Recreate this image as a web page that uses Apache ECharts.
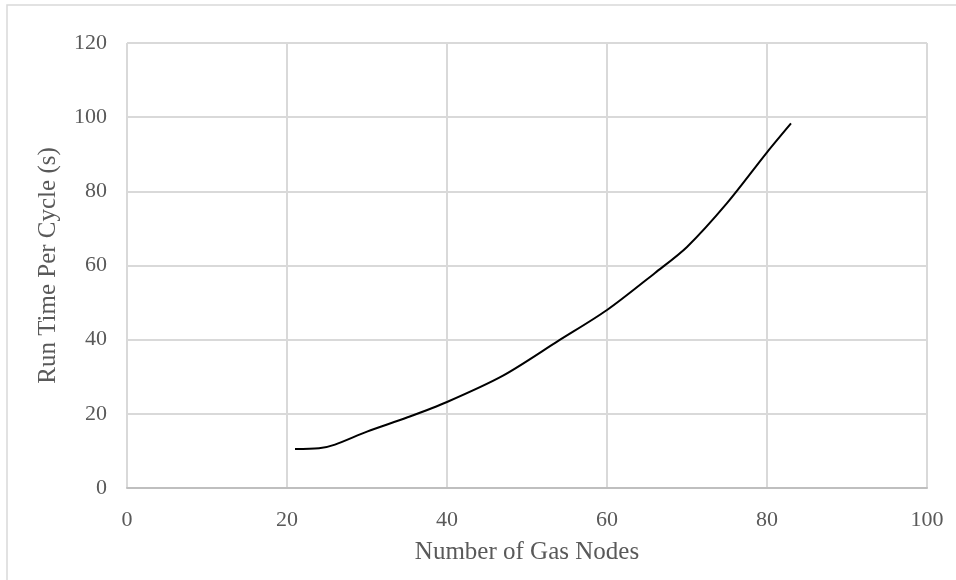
<!DOCTYPE html>
<html>
<head>
<meta charset="utf-8">
<script src="https://cdn.jsdelivr.net/npm/echarts@6/dist/echarts.min.js"></script>
<style>
  html, body { margin: 0; padding: 0; background: #fff; }
  #main { width: 956px; height: 580px; }
</style>
</head>
<body>
<div id="main"></div>
<script>
// gas node counts and run time per cycle (s)
var gasNodes = [21, 24, 26, 30, 35, 40, 47, 54, 60, 66, 70, 75, 80, 83];
var runTime = [10.5, 10.7, 11.7, 15.2, 19, 23.2, 30.3, 39.8, 48, 58, 65, 76.8, 90.5, 98.3];

var xTicks = [0, 20, 40, 60, 80, 100];
var yTicks = [0, 20, 40, 60, 80, 100, 120];

var points = gasNodes.map(function (x, i) { return [x, runTime[i]]; });

var font = '"Liberation Serif", "Times New Roman", serif';

var option = {
    backgroundColor: '#fff',
    animation: false,
    graphic: [{
        type: 'rect',
        shape: { x: 7, y: 5, width: 1000, height: 700 },
        style: { fill: 'none', stroke: '#d9d9d9', lineWidth: 1.5 },
        silent: true
    }],
    grid: { left: 127, right: 29, top: 43, bottom: 92 },
    xAxis: {
        type: 'value',
        min: xTicks[0],
        max: xTicks[xTicks.length - 1],
        interval: 20,
        name: 'Number of Gas Nodes',
        nameLocation: 'middle',
        nameGap: 52,
        nameTextStyle: { fontFamily: font, fontSize: 25, color: '#595959' },
        axisLine: { show: true, lineStyle: { color: '#bfbfbf', width: 2 } },
        axisTick: { show: false },
        axisLabel: { fontFamily: font, fontSize: 22, color: '#595959', margin: 21 },
        splitLine: { show: true, lineStyle: { color: '#d9d9d9', width: 2 } }
    },
    yAxis: {
        type: 'value',
        min: yTicks[0],
        max: yTicks[yTicks.length - 1],
        interval: 20,
        name: 'Run Time Per Cycle (s)',
        nameLocation: 'middle',
        nameGap: 66,
        nameTextStyle: { fontFamily: font, fontSize: 25, color: '#595959' },
        axisLine: { show: false },
        axisTick: { show: false },
        axisLabel: { fontFamily: font, fontSize: 22, color: '#595959', margin: 20 },
        splitLine: { show: true, lineStyle: { color: '#d9d9d9', width: 2 } }
    },
    series: [{
        type: 'line',
        data: points,
        smooth: 0.3,
        showSymbol: false,
        lineStyle: { color: '#000', width: 2 },
        z: 3
    }]
};

var myChart = echarts.init(document.getElementById('main'));
myChart.setOption(option);
</script>
</body>
</html>
